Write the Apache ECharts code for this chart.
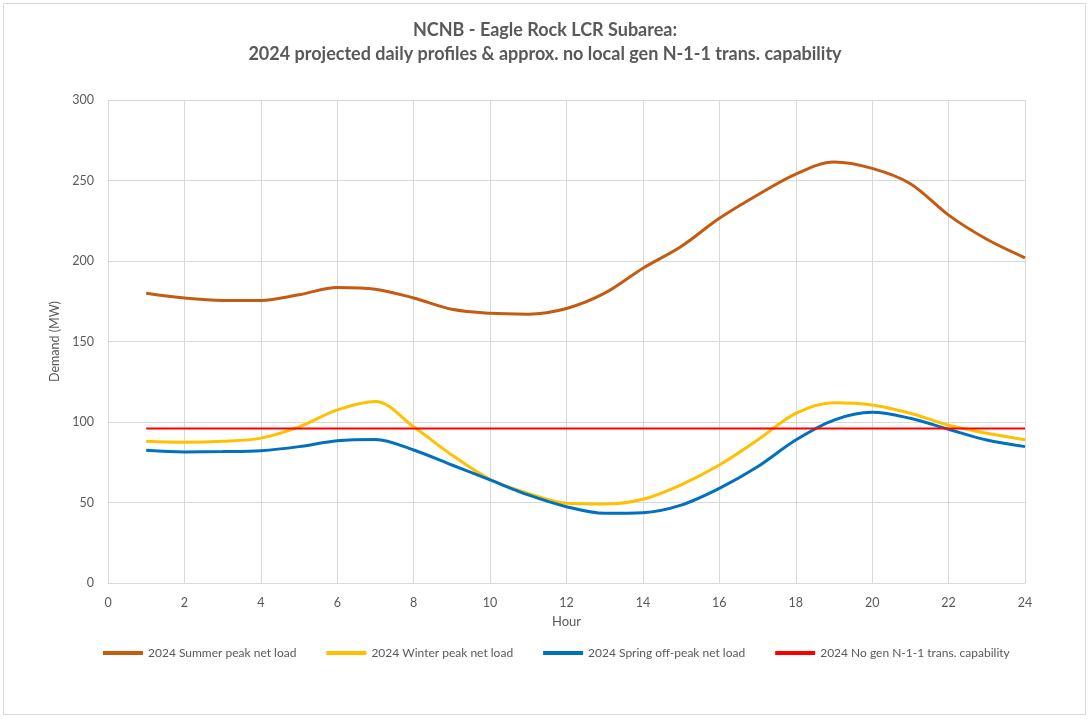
<!DOCTYPE html>
<html>
<head>
<meta charset="utf-8">
<script src="https://cdn.jsdelivr.net/npm/echarts@6/dist/echarts.min.js"></script>
<style>
  html, body { margin: 0; padding: 0; background: #fff; }
  #chart { width: 1090px; height: 719px; }
</style>
</head>
<body>
<div id="chart"></div>
<script>
var hours = [1,2,3,4,5,6,7,8,9,10,11,12,13,14,15,16,17,18,19,20,21,22,23,24];
var summerPeak = [180,177,175.5,175.5,179,183.5,182.5,177,170,167.5,167,170.5,180,195.5,209,226.5,241,254,261.5,257.5,248,228.5,213.5,202];
var winterPeak = [88,87.4,88,90,97,107.5,112.8,97,79.5,64.4,55.7,49.5,49,52,61,73.3,88.8,105.4,112,110.6,105.4,98,93,89];
var springOffPeak = [82.4,81.4,81.6,82.2,84.7,88.4,89.2,82.6,73.3,64,54.7,47.4,43.3,43.7,48.4,58.8,72.2,88.8,101.2,106,102.3,95.5,88.8,84.7];
var transCapability = 96;

var seriesNames = ['2024 Summer peak net load', '2024 Winter peak net load', '2024 Spring off-peak net load', '2024 No gen N-1-1 trans. capability'];

function pairs(values) {
    return hours.map(function (h, i) { return [h, values[i]]; });
}

var font = 'Lato, "Open Sans", sans-serif';
var chart = echarts.init(document.getElementById('chart'));
var option = {
    animation: false,
    backgroundColor: '#fff',
    title: {
        text: 'NCNB - Eagle Rock LCR Subarea:\n2024 projected daily profiles & approx. no local gen N-1-1 trans. capability',
        left: 'center',
        top: 13,
        textStyle: { color: '#595959', fontSize: 18, fontWeight: 'bold', fontFamily: font, lineHeight: 24 }
    },
    graphic: [{
        type: 'rect',
        shape: { x: 3.5, y: 3.5, width: 1082, height: 711 },
        style: { fill: 'none', stroke: '#d9d9d9', lineWidth: 1 },
        silent: true
    }],
    legend: {
        bottom: 55,
        left: 98,
        itemWidth: 40,
        itemHeight: 4,
        itemGap: 30,
        icon: 'rect',
        textStyle: { color: '#595959', fontSize: 12, fontFamily: font },
        data: seriesNames
    },
    grid: { left: 108, right: 65, top: 100, bottom: 136 },
    xAxis: {
        type: 'value',
        min: 0,
        max: 24,
        interval: 2,
        name: 'Hour',
        nameLocation: 'middle',
        nameGap: 32,
        nameTextStyle: { color: '#595959', fontSize: 13, fontFamily: font },
        axisLine: { lineStyle: { color: '#d9d9d9' } },
        axisTick: { show: false },
        axisLabel: { color: '#595959', fontSize: 12.5, fontFamily: font, margin: 13 },
        splitLine: { show: true, lineStyle: { color: '#d9d9d9', width: 1 } }
    },
    yAxis: {
        type: 'value',
        min: 0,
        max: 300,
        interval: 50,
        name: 'Demand (MW)',
        nameLocation: 'middle',
        nameGap: 40,
        nameTextStyle: { color: '#595959', fontSize: 12.5, fontFamily: font },
        axisLine: { show: false },
        axisTick: { show: false },
        axisLabel: { color: '#595959', fontSize: 12.5, fontFamily: font, margin: 14 },
        splitLine: { lineStyle: { color: '#d9d9d9', width: 1 } }
    },
    series: [
        {
            name: seriesNames[0],
            type: 'line',
            smooth: 0.33,
            showSymbol: false,
            lineStyle: { color: '#c55a11', width: 3 },
            itemStyle: { color: '#c55a11' },
            data: pairs(summerPeak)
        },
        {
            name: seriesNames[1],
            type: 'line',
            smooth: 0.33,
            showSymbol: false,
            lineStyle: { color: '#ffc000', width: 3 },
            itemStyle: { color: '#ffc000' },
            data: pairs(winterPeak)
        },
        {
            name: seriesNames[2],
            type: 'line',
            smooth: 0.33,
            showSymbol: false,
            lineStyle: { color: '#0070c0', width: 3 },
            itemStyle: { color: '#0070c0' },
            data: pairs(springOffPeak)
        },
        {
            name: seriesNames[3],
            type: 'line',
            showSymbol: false,
            lineStyle: { color: '#ff0000', width: 2 },
            itemStyle: { color: '#ff0000' },
            data: pairs(hours.map(function () { return transCapability; }))
        }
    ]
};
chart.setOption(option);
</script>
</body>
</html>
